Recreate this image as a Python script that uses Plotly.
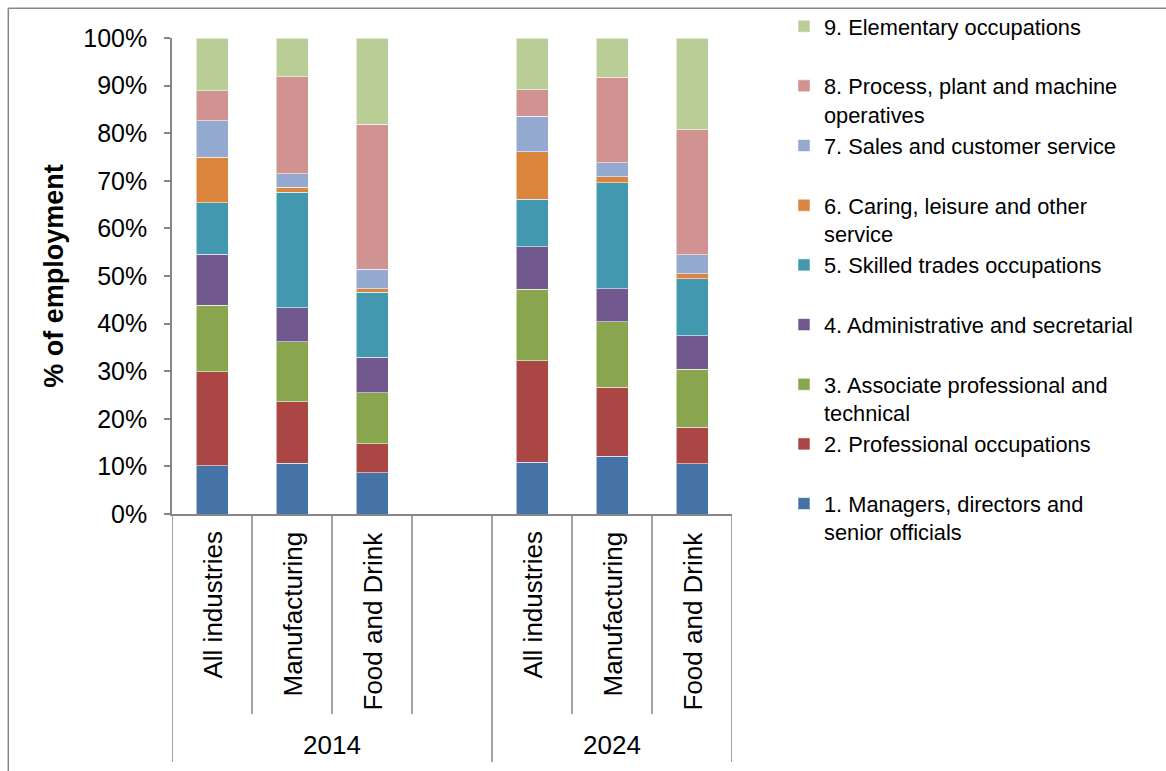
import numpy as np
import plotly.graph_objects as go

# ---- data ----
years = ["2014", "2024"]
industries = ["All industries", "Manufacturing", "Food and Drink"]

occupations = [
    "1. Managers, directors and senior officials",
    "2. Professional occupations",
    "3. Associate professional and technical",
    "4. Administrative and secretarial",
    "5. Skilled trades occupations",
    "6. Caring, leisure and other service",
    "7. Sales and customer service",
    "8. Process, plant and machine operatives",
    "9. Elementary occupations",
]
legend_labels = [
    "1. Managers, directors and<br>senior officials",
    "2. Professional occupations<br>\u00a0",
    "3. Associate professional and<br>technical",
    "4. Administrative and secretarial<br>\u00a0",
    "5. Skilled trades occupations<br>\u00a0",
    "6. Caring, leisure and other<br>service",
    "7. Sales and customer service<br>\u00a0",
    "8. Process, plant and machine<br>operatives",
    "9. Elementary occupations<br>\u00a0",
]

# % of employment; order: 2014 (All, Manuf, F&D), 2024 (All, Manuf, F&D)
managers     = [10.1, 10.7,  8.7, 10.9, 12.1, 10.6]
professional = [19.8, 12.9,  6.1, 21.3, 14.5,  7.6]
associate    = [14.0, 12.6, 10.7, 15.0, 13.8, 12.2]
admin        = [10.7,  7.1,  7.4,  8.9,  6.9,  7.1]
skilled      = [10.8, 24.3, 13.7, 10.0, 22.3, 11.9]
caring       = [ 9.5,  1.0,  0.7, 10.0,  1.2,  1.1]
sales        = [ 7.7,  2.9,  4.1,  7.5,  3.0,  4.0]
process      = [ 6.3, 20.4, 30.5,  5.5, 18.0, 26.2]
elementary   = [11.1,  8.1, 18.1, 10.9,  8.2, 19.3]
series = [managers, professional, associate, admin, skilled,
          caring, sales, process, elementary]

colors = ["#4572A7", "#AA4643", "#89A54E", "#71588F", "#4198AF",
          "#DB843D", "#93A9CF", "#D19392", "#B9CD96"]

# ---- category slot layout (2014 group has a trailing empty slot) ----
slots_per_group = [len(industries) + 1, len(industries)]
group_start = np.concatenate([[0], np.cumsum(slots_per_group)[:-1]])
xpos = [int(group_start[g] + i) for g in range(len(years)) for i in range(len(industries))]
x_lo, x_hi = -0.5, sum(slots_per_group) - 0.5

FONT = "Liberation Sans, Arial, sans-serif"
AXC = "#868686"
W, H = 1166, 771
ML, MR, MT, MB = 172, 434, 38, 257
PW, PH = W - ML - MR, H - MT - MB


def px_to_paper_y(py):
    return (H - MB - py) / PH


def px_to_paper_x(px):
    return (px - ML) / PW


fig = go.Figure()
for name, lab, col, vals in zip(occupations, legend_labels, colors, series):
    fig.add_trace(go.Bar(
        x=xpos, y=vals, name=lab, width=0.4,
        marker=dict(color=col, line=dict(color="rgba(255,255,255,0.55)", width=1)),
        hovertext=[f"{years[g]} {industries[i]}: {name}" for g in range(2) for i in range(3)],
    ))

shapes = []
# dividers under the x axis
inner_bottom = px_to_paper_y(714)
outer_bottom = px_to_paper_y(762)
seen = {}
for g in range(len(years)):
    s = group_start[g]
    for k in range(slots_per_group[g] + 1):
        xb = float(s - 0.5 + k)
        outer = (k == 0 or k == slots_per_group[g])
        seen[xb] = seen.get(xb, False) or outer
for xb, outer in seen.items():
    shapes.append(dict(type="line", xref="x", yref="paper", x0=xb, x1=xb,
                       y0=0, y1=outer_bottom if outer else inner_bottom,
                       line=dict(color=AXC, width=1.5)))
# outer chart border (top & left edges visible)
bx = px_to_paper_x(8.3)
by = px_to_paper_y(8.3)
shapes.append(dict(type="line", xref="paper", yref="paper", x0=bx, x1=bx, y0=by, y1=-0.7,
                   line=dict(color=AXC, width=1.5)))
shapes.append(dict(type="line", xref="paper", yref="paper", x0=bx, x1=1.9, y0=by, y1=by,
                   line=dict(color=AXC, width=1.5)))

annotations = []
for g in range(len(years)):
    for i, ind in enumerate(industries):
        annotations.append(dict(x=group_start[g] + i, xref="x", y=px_to_paper_y(530), yref="paper",
                                text=ind, textangle=-90, showarrow=False,
                                xanchor="center", yanchor="top",
                                font=dict(family=FONT, size=26, color="black")))
    annotations.append(dict(x=group_start[g] - 0.5 + slots_per_group[g] / 2, xref="x",
                            y=px_to_paper_y(745), yref="paper", text=years[g], showarrow=False,
                            xanchor="center", yanchor="middle",
                            font=dict(family=FONT, size=26, color="black")))

fig.update_layout(
    width=W, height=H, autosize=False,
    margin=dict(l=ML, r=MR, t=MT, b=MB),
    paper_bgcolor="white", plot_bgcolor="white",
    barmode="stack", showlegend=True,
    font=dict(family=FONT, color="black"),
    xaxis=dict(range=[x_lo, x_hi], showticklabels=False, ticks="", showgrid=False,
               zeroline=False, showline=True, linecolor=AXC, linewidth=1.5),
    yaxis=dict(range=[0, 100], tickvals=list(range(0, 101, 10)),
               ticktext=[f"{v}%" for v in range(0, 101, 10)],
               ticks="outside", ticklen=6, tickwidth=1.5, tickcolor=AXC,
               showline=True, linecolor=AXC, linewidth=1.5, showgrid=False, zeroline=False,
               tickfont=dict(family=FONT, size=25, color="black"), ticklabelstandoff=12,
               title=dict(text="% of employment", standoff=12,
                          font=dict(family=FONT, size=27, color="black", weight="bold"))),
    legend=dict(xref="container", yref="container",
                x=784 / W, y=1 - 5.5 / H, xanchor="left", yanchor="top",
                traceorder="reversed", valign="top", maxheight=760,
                font=dict(family=FONT, size=21.8, color="black"),
                bgcolor="rgba(0,0,0,0)"),
    shapes=shapes, annotations=annotations,
)

fig.write_html(
    "out.html",
    config={"displayModeBar": False},
    post_script="document.body.style.margin='0px';document.body.style.overflow='hidden';",
)
